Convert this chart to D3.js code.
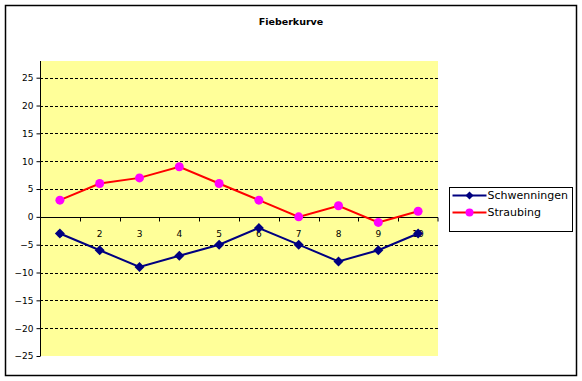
<!DOCTYPE html>
<html>
<head>
<meta charset="utf-8">
<script src="https://cdn.jsdelivr.net/npm/d3@7"></script>
<style>
  body { margin: 0; background: #fff; }
  svg { display: block; }
</style>
</head>
<body>
<div class="chart"></div>
<script>
var days = [1, 2, 3, 4, 5, 6, 7, 8, 9, 10];
var schwenningen = [-3, -6, -9, -7, -5, -2, -5, -8, -6, -3];
var straubing = [3, 6, 7, 9, 6, 3, 0, 2, -1, 1];
var yTicks = [-25, -20, -15, -10, -5, 0, 5, 10, 15, 20, 25];

var width = 582,
    height = 381;

var svg = d3.select(".chart")
    .append("svg")
    .attr("width", width)
    .attr("height", height)
    .attr("font-family", "DejaVu Sans, sans-serif");

// outer frame
svg.append("rect")
    .attr("x", 5.5)
    .attr("y", 5.5)
    .attr("width", 571)
    .attr("height", 370)
    .attr("fill", "#fff")
    .attr("stroke", "#000")
    .attr("stroke-width", 1.5);

svg.append("text")
    .attr("x", 291)
    .attr("y", 25)
    .attr("text-anchor", "middle")
    .attr("font-size", 9.5)
    .attr("font-weight", "bold")
    .text("Fieberkurve");

var plot = {left: 40, right: 438, top: 61, bottom: 356};

var x = d3.scaleBand()
    .domain(days)
    .range([plot.left, plot.right]);

var y = d3.scaleLinear()
    .domain([-25, 28])
    .range([plot.bottom, plot.top]);

var g = svg.append("g");

g.append("rect")
    .attr("x", plot.left)
    .attr("y", plot.top)
    .attr("width", plot.right - plot.left)
    .attr("height", plot.bottom - plot.top)
    .attr("fill", "#ffff99");

// dashed gridlines
g.selectAll(".grid")
    .data(yTicks.filter(function(d) { return d !== 0 && d !== -25; }))
    .enter().append("line")
    .attr("x1", plot.left)
    .attr("x2", plot.right)
    .attr("y1", function(d) { return Math.round(y(d)) + 0.5; })
    .attr("y2", function(d) { return Math.round(y(d)) + 0.5; })
    .attr("stroke", "#000")
    .attr("stroke-dasharray", "3,2");

// y axis
var yAxis = g.append("g")
    .attr("transform", "translate(" + (plot.left + 0.5) + ",0)")
    .call(d3.axisLeft(y).tickValues(yTicks).tickSize(4).tickPadding(3));
yAxis.select(".domain").remove();
yAxis.append("line")
    .attr("y1", plot.top)
    .attr("y2", plot.bottom)
    .attr("stroke", "#000");
yAxis.selectAll(".tick text")
    .attr("font-size", 9)
    .attr("font-family", "DejaVu Sans, sans-serif")
    .attr("fill", "#000");

// x axis on zero line
var y0 = Math.round(y(0)) + 0.5;
var xAxis = g.append("g")
    .attr("transform", "translate(0," + y0 + ")");
xAxis.append("line")
    .attr("x1", plot.left)
    .attr("x2", plot.right)
    .attr("stroke", "#000");
xAxis.selectAll(".tk")
    .data(days.concat([null]))
    .enter().append("line")
    .attr("x1", function(d) { return d === null ? plot.right : Math.round(x(d)) + 0.5; })
    .attr("x2", function(d) { return d === null ? plot.right : Math.round(x(d)) + 0.5; })
    .attr("y1", 0)
    .attr("y2", 4)
    .attr("stroke", "#000");
xAxis.selectAll(".lbl")
    .data(days)
    .enter().append("text")
    .attr("x", function(d) { return x(d) + x.bandwidth() / 2; })
    .attr("y", 19)
    .attr("text-anchor", "middle")
    .attr("font-size", 9)
    .text(function(d) { return d; });

var cx = function(d, i) { return x(days[i]) + x.bandwidth() / 2; };

var line = d3.line()
    .x(function(d, i) { return cx(d, i); })
    .y(function(d) { return y(d); });

g.append("path")
    .datum(straubing)
    .attr("fill", "none")
    .attr("stroke", "#ff0000")
    .attr("stroke-width", 2)
    .attr("d", line);

g.selectAll(".dot")
    .data(straubing)
    .enter().append("circle")
    .attr("cx", cx)
    .attr("cy", function(d) { return y(d); })
    .attr("r", 4.5)
    .attr("fill", "#ff00ff");

g.append("path")
    .datum(schwenningen)
    .attr("fill", "none")
    .attr("stroke", "#000080")
    .attr("stroke-width", 2)
    .attr("d", line);

var diamond = "M0,-5L5,0L0,5L-5,0Z";
g.selectAll(".dia")
    .data(schwenningen)
    .enter().append("path")
    .attr("d", diamond)
    .attr("transform", function(d, i) { return "translate(" + cx(d, i) + "," + y(d) + ")"; })
    .attr("fill", "#000080");

// Legend
var legend = svg.append("g")
    .attr("transform", "translate(449.5,187.5)");

legend.append("rect")
    .attr("width", 123)
    .attr("height", 44)
    .attr("fill", "#fff")
    .attr("stroke", "#000");

var series = [
    {name: "Schwenningen", color: "#000080", marker: "diamond"},
    {name: "Straubing", color: "#ff0000", marker: "circle"}
];

var item = legend.selectAll(".item")
    .data(series)
    .enter().append("g")
    .attr("transform", function(d, i) { return "translate(0," + (8 + i * 17) + ")"; });

item.append("line")
    .attr("x1", 3)
    .attr("x2", 37)
    .attr("stroke", function(d) { return d.color; })
    .attr("stroke-width", 2);

item.each(function(d) {
    var s = d3.select(this);
    if (d.marker === "diamond") {
        s.append("path").attr("d", "M0,-4L4,0L0,4L-4,0Z")
            .attr("transform", "translate(20,0)")
            .attr("fill", "#000080");
    } else {
        s.append("circle").attr("cx", 20).attr("r", 4).attr("fill", "#ff00ff");
    }
});

item.append("text")
    .attr("x", 38)
    .attr("dy", "0.35em")
    .attr("font-size", 11)
    .text(function(d) { return d.name; });
</script>
</body>
</html>
